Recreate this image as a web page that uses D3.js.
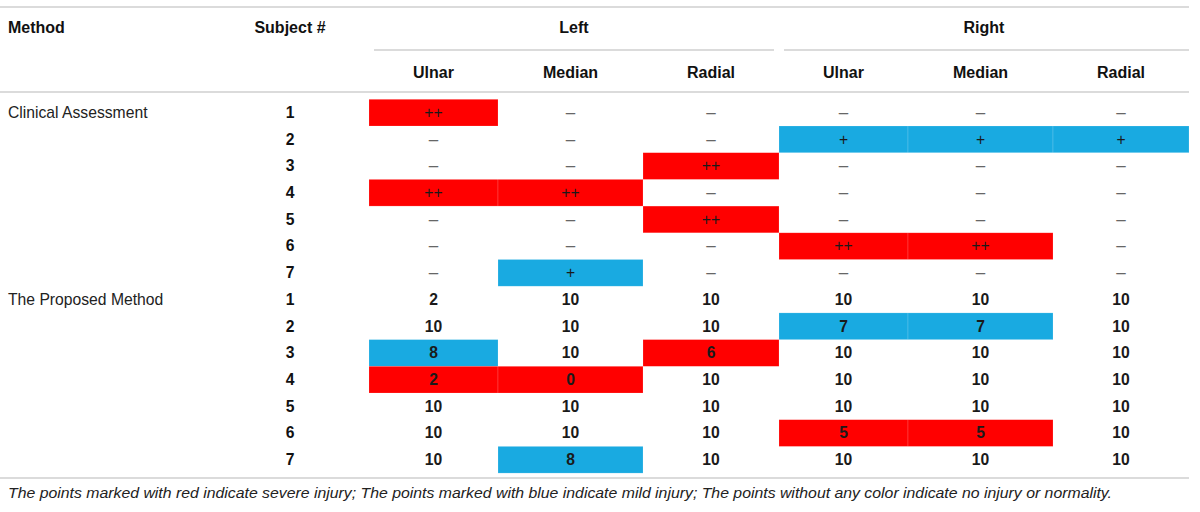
<!DOCTYPE html>
<html>
<head>
<meta charset="utf-8">
<script src="https://cdn.jsdelivr.net/npm/d3@7"></script>
<style>
  body { margin: 0; background: #fff; }
  svg text { font-family: "Liberation Sans", Arial, Helvetica, sans-serif; }
</style>
</head>
<body>
<div id="tableContainer"></div>
<script>
const W = 1200, H = 512;

// table content
const methods = ["Clinical Assessment", "The Proposed Method"];
const subjects = [1, 2, 3, 4, 5, 6, 7];
const sides = ["Left", "Right"];
const nerves = ["Ulnar", "Median", "Radial"];

// rows = subjects, cols = Left Ulnar, Left Median, Left Radial, Right Ulnar, Right Median, Right Radial
const clinicalMarks = [
    ["++", "–", "–", "–", "–", "–"],
    ["–", "–", "–", "+", "+", "+"],
    ["–", "–", "++", "–", "–", "–"],
    ["++", "++", "–", "–", "–", "–"],
    ["–", "–", "++", "–", "–", "–"],
    ["–", "–", "–", "++", "++", "–"],
    ["–", "+", "–", "–", "–", "–"],
];
const proposedScores = [
    [2, 10, 10, 10, 10, 10],
    [10, 10, 10, 7, 7, 10],
    [8, 10, 6, 10, 10, 10],
    [2, 0, 10, 10, 10, 10],
    [10, 10, 10, 10, 10, 10],
    [10, 10, 10, 5, 5, 10],
    [10, 8, 10, 10, 10, 10],
];
// 0 = no colour, 1 = mild (blue), 2 = severe (red)
const proposedSeverity = [
    [0, 0, 0, 0, 0, 0],
    [0, 0, 0, 1, 1, 0],
    [1, 0, 2, 0, 0, 0],
    [2, 2, 0, 0, 0, 0],
    [0, 0, 0, 0, 0, 0],
    [0, 0, 0, 2, 2, 0],
    [0, 1, 0, 0, 0, 0],
];
const footnote = "The points marked with red indicate severe injury; The points marked with blue indicate mild injury; The points without any color indicate no injury or normality.";

function createTable() {
    const svg = d3.select("#tableContainer").append("svg")
        .attr("width", W)
        .attr("height", H);

    // column edges (Ulnar / Median / Radial widths differ a bit)
    const nerveW = [129, 145, 136];
    const colEdges = [369];
    sides.forEach(() => nerveW.forEach(w => colEdges.push(colEdges[colEdges.length - 1] + w)));
    const colX = i => colEdges[i];
    const colW = i => colEdges[i + 1] - colEdges[i];
    const colMid = i => colEdges[i] + colW(i) / 2;

    // build row list
    const rows = [];
    methods.forEach((m, mi) => {
        subjects.forEach((s, si) => {
            const cells = d3.range(6).map(c => {
                if (mi === 0) {
                    const v = clinicalMarks[si][c];
                    return { text: v, sev: v === "++" ? 2 : v === "+" ? 1 : 0, kind: v === "–" ? "dash" : "mark" };
                }
                return { text: String(proposedScores[si][c]), sev: proposedSeverity[si][c], kind: "num" };
            });
            rows.push({ method: si === 0 ? m : "", subject: s, cells });
        });
    });

    const y = d3.scaleBand()
        .domain(d3.range(rows.length))
        .range([99.3, 99.3 + 26.7 * rows.length])
        .padding(0);

    const sevColor = d3.scaleOrdinal().domain([1, 2]).range(["#19aae1", "#ff0000"]);
    const lineColor = "#cfcfcf";

    // horizontal rules
    const hline = (x1, x2, yy) => svg.append("line")
        .attr("x1", x1).attr("x2", x2).attr("y1", yy).attr("y2", yy)
        .style("stroke", lineColor).style("stroke-width", 1.6);
    hline(0, 1189, 7);
    hline(374, 774, 50);
    hline(784, 1189, 50);
    hline(0, 1189, 92);
    hline(0, 1189, 478);

    // header
    const hdr = svg.append("g").style("font-weight", "bold").style("font-size", "16px").style("fill", "#111");
    hdr.append("text").attr("x", 8).attr("y", 32.5).text("Method");
    hdr.append("text").attr("x", 290).attr("y", 32.5).attr("text-anchor", "middle").text("Subject #");
    hdr.selectAll(".side")
        .data(sides)
        .enter()
        .append("text")
        .attr("class", "side")
        .attr("x", (d, i) => (colEdges[i * 3] + colEdges[i * 3 + 3]) / 2)
        .attr("y", 32.5)
        .attr("text-anchor", "middle")
        .text(d => d);
    hdr.selectAll(".nerve")
        .data(d3.range(6))
        .enter()
        .append("text")
        .attr("class", "nerve")
        .attr("x", d => colMid(d))
        .attr("y", 78.3)
        .attr("text-anchor", "middle")
        .text(d => nerves[d % 3]);

    // body
    const rowG = svg.append("g")
        .selectAll("g")
        .data(rows)
        .enter()
        .append("g")
        .attr("transform", (d, i) => `translate(0,${y(i)})`);

    rowG.selectAll("rect")
        .data(d => d.cells.map((c, i) => ({ ...c, col: i })).filter(c => c.sev > 0))
        .enter()
        .append("rect")
        .attr("x", d => colX(d.col))
        .attr("y", 0)
        .attr("width", d => colW(d.col))
        .attr("height", y.bandwidth())
        .style("fill", d => sevColor(d.sev))
        .style("stroke", "rgba(255,255,255,0.25)")
        .style("stroke-width", 0.6);

    const mid = y.bandwidth() / 2 + 5.3;

    rowG.append("text")
        .attr("x", 8)
        .attr("y", mid)
        .style("font-size", "15.7px")
        .style("fill", "#222")
        .text(d => d.method);

    rowG.append("text")
        .attr("x", 290)
        .attr("y", mid)
        .attr("text-anchor", "middle")
        .style("font-size", "15.7px")
        .style("font-weight", "bold")
        .style("fill", "#111")
        .text(d => d.subject);

    rowG.selectAll(".cell")
        .data(d => d.cells.map((c, i) => ({ ...c, col: i })))
        .enter()
        .append("text")
        .attr("class", "cell")
        .attr("x", d => colMid(d.col))
        .attr("y", mid)
        .attr("text-anchor", "middle")
        .style("font-size", d => d.kind === "dash" ? "17px" : "15.7px")
        .style("font-weight", d => d.kind === "num" ? "bold" : "normal")
        .style("fill", d => d.kind === "dash" ? "#666" : "#1a1a1a")
        .text(d => d.text);

    // footnote
    svg.append("text")
        .attr("x", 8)
        .attr("y", 498)
        .style("font-size", "15.5px")
        .style("font-style", "italic")
        .style("fill", "#222")
        .attr("textLength", 1104)
        .attr("lengthAdjust", "spacingAndGlyphs")
        .text(footnote);
}

createTable();
</script>
</body>
</html>
